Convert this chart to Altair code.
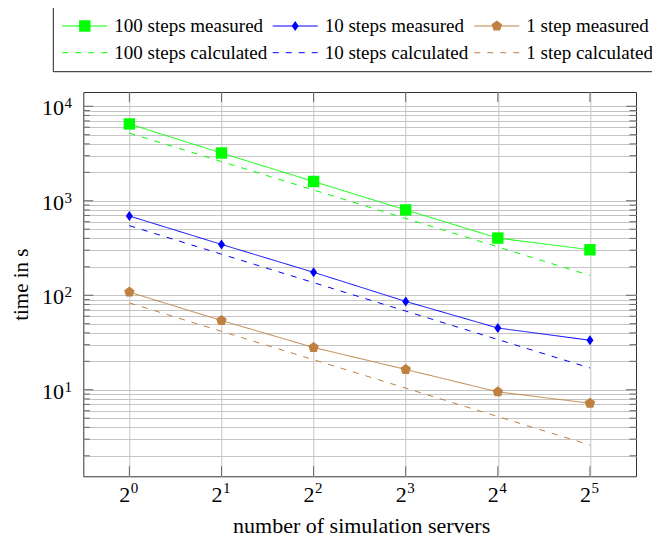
import altair as alt
import pandas as pd

# ---------------- data ----------------
servers = [1, 2, 4, 8, 16, 32]
meas_100 = [6500, 3200, 1600, 800, 403, 303]
calc_100 = [5200, 2600, 1300, 650, 325, 162]
meas_10 = [690, 345, 175, 86, 45, 33.4]
calc_10 = [545, 272, 136, 68, 34, 17]
meas_1 = [108, 54, 28, 16.4, 9.5, 7.2]
calc_1 = [83, 41.5, 20.8, 10.4, 5.2, 2.6]

series_names = ["100 steps measured", "10 steps measured", "1 step measured",
                "100 steps calculated", "10 steps calculated", "1 step calculated"]
series_values = [meas_100, meas_10, meas_1, calc_100, calc_10, calc_1]
series_kind = ["measured", "measured", "measured", "calculated", "calculated", "calculated"]
series_colors = ["#00ff00", "#0000ff", "#bf8040", "#00ff00", "#0000ff", "#bf8040"]

x_tick_values = [1, 2, 4, 8, 16, 32]
x_label_base = ["2", "2", "2", "2", "2", "2"]
x_label_exp = ["0", "1", "2", "3", "4", "5"]
y_major_values = [10, 100, 1000, 10000]
y_label_base = ["10", "10", "10", "10"]
y_label_exp = ["1", "2", "3", "4"]
y_minor_values = [m * d for d in (1, 10, 100, 1000) for m in range(2, 10)]

# ---------------- styles ----------------
FONT = "Liberation Serif"
W, H = 552.7, 384.3
OX, OY = 83.3, 92.0          # page position of the plot origin
TOTAL_W, TOTAL_H = 644, 528
TITLE_BASELINE_PAGE_Y = 532
DIAMOND = "M0,-1L0.7,0L0,1L-0.7,0Z"
PENTAGON = "M0,-1L0.951,-0.309L0.588,0.809L-0.588,0.809L-0.951,-0.309Z"
marker_shapes = ["square", DIAMOND, PENTAGON]
marker_sizes = [130, 100, 121]
DASH = [6, 7]
GRID = "#c4c4c4"
TICK = "#666666"

rows = []
for name, vals, kind in zip(series_names, series_values, series_kind):
    for s, v in zip(servers, vals):
        rows.append({"servers": s, "time": v, "series": name, "kind": kind})
df = pd.DataFrame(rows)

xscale = alt.Scale(type="log", base=2, domain=[2 ** -0.5, 2 ** 5.5], nice=False)
yscale = alt.Scale(type="log", domain=[10 ** 0.084, 10 ** 4.151], nice=False)

xaxis = alt.Axis(values=x_tick_values, labels=False, title="number of simulation servers",
                 grid=True, gridColor=GRID, ticks=False, domain=False,
                 titleFont=FONT, titleFontSize=22, titleFontWeight="normal", titleColor="black",
                 titleX=W / 2 + 1.5, titleY=TITLE_BASELINE_PAGE_Y - OY - H, titleBaseline="alphabetic")
yaxis = alt.Axis(values=y_major_values + y_minor_values, labels=False, title="time in s",
                 grid=True, gridColor=GRID, ticks=False, domain=False,
                 titleFont=FONT, titleFontSize=21, titleFontWeight="normal", titleColor="black",
                 titleX=-56, titleY=H / 2, titleBaseline="alphabetic", titleAngle=270)

X = alt.X("servers:Q", scale=xscale, axis=xaxis)
Y = alt.Y("time:Q", scale=yscale, axis=yaxis)

color = alt.Color("series:N", scale=alt.Scale(domain=series_names, range=series_colors), legend=None)
dash = alt.StrokeDash("kind:N", scale=alt.Scale(domain=["measured", "calculated"], range=[[1, 0], DASH]),
                      legend=None)

lines = alt.Chart(df).mark_line(strokeWidth=1).encode(x=X, y=Y, color=color, strokeDash=dash,
                                                      detail="series:N", order="servers:Q")

point_layers = []
for name, shp, sz in zip(series_names[:3], marker_shapes, marker_sizes):
    point_layers.append(
        alt.Chart(df).transform_filter(alt.datum.series == name)
        .mark_point(filled=True, opacity=1, shape=shp, size=sz, strokeWidth=0)
        .encode(x=X, y=Y, color=color)
    )

# inward ticks (pgfplots style)
xt = pd.DataFrame({"servers": x_tick_values, "base": x_label_base, "exp": x_label_exp})
yt_major = pd.DataFrame({"time": y_major_values, "base": y_label_base, "exp": y_label_exp})
yt_minor = pd.DataFrame({"time": y_minor_values})
tick_layers = [
    alt.Chart(xt).mark_rule(color=TICK, strokeWidth=1).encode(x="servers:Q", y=alt.value(H), y2=alt.value(H - 10)),
    alt.Chart(xt).mark_rule(color=TICK, strokeWidth=1).encode(x="servers:Q", y=alt.value(0), y2=alt.value(10)),
    alt.Chart(yt_major).mark_rule(color=TICK, strokeWidth=1).encode(y="time:Q", x=alt.value(0), x2=alt.value(10)),
    alt.Chart(yt_major).mark_rule(color=TICK, strokeWidth=1).encode(y="time:Q", x=alt.value(W), x2=alt.value(W - 10)),
    alt.Chart(yt_minor).mark_rule(color=TICK, strokeWidth=1).encode(y="time:Q", x=alt.value(0), x2=alt.value(6.5)),
    alt.Chart(yt_minor).mark_rule(color=TICK, strokeWidth=1).encode(y="time:Q", x=alt.value(W), x2=alt.value(W - 6.5)),
]

# tick labels with base + raised exponent (LaTeX style)
label_layers = [
    alt.Chart(xt).mark_text(align="right", baseline="alphabetic", font=FONT, fontSize=22, dx=1,
                            color="black").encode(x="servers:Q", y=alt.value(H + 25.7), text="base:N"),
    alt.Chart(xt).mark_text(align="left", baseline="alphabetic", font=FONT, fontSize=15, dx=1.5,
                            color="black").encode(x="servers:Q", y=alt.value(H + 16.5), text="exp:N"),
    alt.Chart(yt_major).mark_text(align="right", baseline="alphabetic", font=FONT, fontSize=22, dy=9,
                                  color="black").encode(y="time:Q", x=alt.value(-19.3), text="base:N"),
    alt.Chart(yt_major).mark_text(align="left", baseline="alphabetic", font=FONT, fontSize=15, dy=2,
                                  color="black").encode(y="time:Q", x=alt.value(-18.8), text="exp:N"),
]

# ---------------- custom legend (outside the plot, above) ----------------
col_line_start = [62.3, 272.7, 474.3]
row_y = [26.0, 52.7]
LINE_LEN = 45
TEXT_GAP = 52
leg_rows = []
for i, (name, kind, col) in enumerate(zip(series_names, series_kind, series_colors)):
    c = i % 3
    r = i // 3
    x0 = col_line_start[c] - OX
    leg_rows.append({
        "series": name, "kind": kind, "color": col,
        "lx": x0, "lx2": x0 + LINE_LEN, "mx": x0 + LINE_LEN / 2,
        "tx": x0 + TEXT_GAP, "ly": row_y[r] - OY,
        "shape": marker_shapes[c], "size": marker_sizes[c],
    })
leg = pd.DataFrame(leg_rows)

LX = lambda f: alt.X(f"{f}:Q", scale=None, axis=None)
LY = alt.Y("ly:Q", scale=None, axis=None)
LC = alt.Color("color:N", scale=None, legend=None)

legend_box = alt.Chart(pd.DataFrame({"a": [0]})).mark_rect(
    fill="white", stroke="#222222", strokeWidth=1
).encode(x=alt.value(53.3 - OX), x2=alt.value(W + 60), y=alt.value(7.3 - OY), y2=alt.value(71.7 - OY))

leg_solid = alt.Chart(leg).transform_filter(alt.datum.kind == "measured").mark_rule(strokeWidth=1).encode(
    x=LX("lx"), x2="lx2:Q", y=LY, color=LC)
leg_dashed = alt.Chart(leg).transform_filter(alt.datum.kind == "calculated").mark_rule(
    strokeWidth=1, strokeDash=DASH).encode(x=LX("lx"), x2="lx2:Q", y=LY, color=LC)
leg_marks = alt.Chart(leg).transform_filter(alt.datum.kind == "measured").mark_point(
    filled=True, opacity=1, strokeWidth=0).encode(
    x=LX("mx"), y=LY, color=LC,
    shape=alt.Shape("shape:N", scale=None, legend=None),
    size=alt.Size("size:Q", scale=None, legend=None))
leg_text = alt.Chart(leg).mark_text(align="left", baseline="middle", font=FONT, fontSize=19,
                                     color="black").encode(x=LX("tx"), y=LY, text="series:N")

chart = alt.layer(
    *tick_layers, lines, *point_layers, *label_layers,
    legend_box, leg_solid, leg_dashed, leg_marks, leg_text
).properties(
    width=W, height=H,
    autosize=alt.AutoSizeParams(type="none"),
    padding={"left": OX - 8, "top": OY - 8, "right": TOTAL_W - (OX - 8) - W,
             "bottom": TOTAL_H - (OY - 8) - H},
    background="white",
).configure_view(stroke="#333333", strokeWidth=1)

chart.save("out.html", embed_options={"renderer": "svg", "actions": False})
